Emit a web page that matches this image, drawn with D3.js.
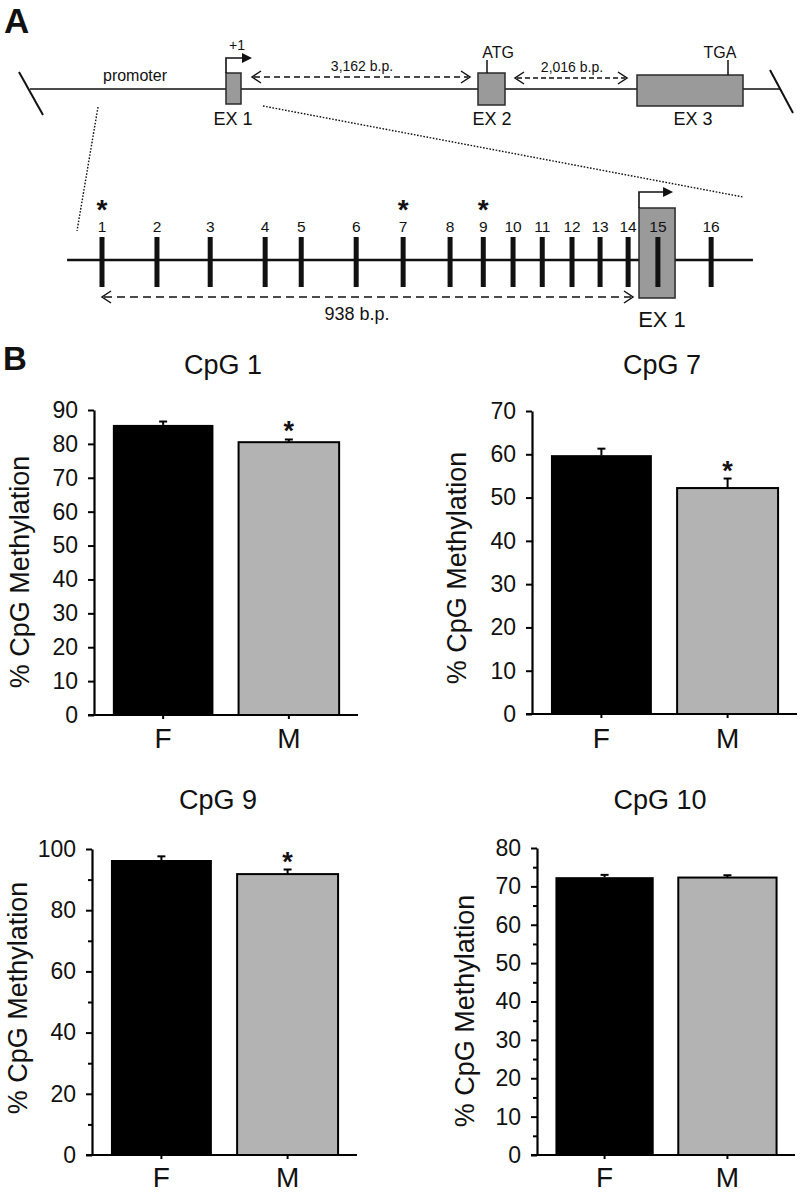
<!DOCTYPE html>
<html><head><meta charset="utf-8">
<script src="https://cdn.jsdelivr.net/npm/d3@7"></script>
<style>
html,body{margin:0;padding:0;background:#fff;}
svg text{font-family:"Liberation Sans",Arial,Helvetica,sans-serif;fill:#111;}
</style></head>
<body>
<svg id="fig" width="800" height="1195"></svg>
<script>
// ---------- DATA ----------
const cpgLabels = [1,2,3,4,5,6,7,8,9,10,11,12,13,14,15,16];
const cpgPosBp  = [0,96,189,285,348,444,526,608,666,718,769,821,870,919,971,1064];
const cpgStarred = [1,7,9];
const promoterSpanBp = 938;

const groups = ["F","M"];
const panelTitles = ["CpG 1","CpG 7","CpG 9","CpG 10"];
const meanF = [85.6, 59.8, 96.4, 72.4];
const meanM = [80.5, 52.2, 91.8, 72.3];
const semF  = [1.0, 1.5, 1.2, 0.6];
const semM  = [0.8, 2.2, 1.5, 0.6];
const significantM = [true, true, true, false];
const yMaxes = [90, 70, 100, 80];
const yMajorSteps = [10, 10, 20, 10];
const yMinorSteps = [0, 0, 10, 5];

// ---------- DRAW ----------
const svg = d3.select("#fig");
const ink = "#111";

svg.append("text").attr("x",4).attr("y",33).attr("font-size",35).attr("font-weight","bold").text("A");

const gA = svg.append("g");
function openHead(g, x, y, dir){
  g.append("path").attr("d",`M${x-dir*9},${y-6}L${x},${y}L${x-dir*9},${y+6}`)
   .attr("fill","none").attr("stroke",ink).attr("stroke-width",1.5);
}
function dashedArrow(g, x1, x2, y, dash){
  g.append("line").attr("x1",x1+2).attr("x2",x2-2).attr("y1",y).attr("y2",y)
   .attr("stroke",ink).attr("stroke-width",1.5).attr("stroke-dasharray",dash);
  openHead(g,x1,y,-1); openHead(g,x2,y,1);
}
function bentArrow(g, x, yBase, yTop, xTip){
  g.append("path").attr("d",`M${x},${yBase}V${yTop}H${xTip-8}`).attr("fill","none").attr("stroke",ink).attr("stroke-width",1.6);
  g.append("path").attr("d",`M${xTip-10},${yTop-5}L${xTip},${yTop}L${xTip-10},${yTop+5}Z`).attr("fill",ink);
}

gA.append("line").attr("x1",30).attr("x2",780).attr("y1",89).attr("y2",89).attr("stroke",ink).attr("stroke-width",1.5);
gA.append("line").attr("x1",19).attr("y1",72).attr("x2",43).attr("y2",115).attr("stroke",ink).attr("stroke-width",2);
gA.append("line").attr("x1",770).attr("y1",70).attr("x2",793).attr("y2",113).attr("stroke",ink).attr("stroke-width",2);
gA.append("text").attr("x",135).attr("y",81).attr("font-size",16).attr("text-anchor","middle").text("promoter");

gA.append("line").attr("x1",98).attr("y1",107).attr("x2",77).attr("y2",231).attr("stroke",ink).attr("stroke-width",1.4).attr("stroke-dasharray","1.6,1.6");
gA.append("line").attr("x1",263).attr("y1",106).attr("x2",743).attr("y2",197).attr("stroke",ink).attr("stroke-width",1.4).attr("stroke-dasharray","1.6,1.6");

const exons = [
  {x:226,w:15,y:73,h:31,label:"EX 1",lx:233},
  {x:478,w:27,y:73,h:32,label:"EX 2",lx:492},
  {x:637,w:106,y:75,h:31,label:"EX 3",lx:693}
];
exons.forEach(e=>{
  gA.append("rect").attr("x",e.x).attr("y",e.y).attr("width",e.w).attr("height",e.h)
    .attr("fill","#9a9a9a").attr("stroke","#2a2a2a").attr("stroke-width",1.5);
  gA.append("text").attr("x",e.lx).attr("y",125).attr("font-size",18).attr("text-anchor","middle").text(e.label);
});
bentArrow(gA,226,73,58,252);
gA.append("text").attr("x",237).attr("y",50).attr("font-size",14).attr("text-anchor","middle").text("+1");
dashedArrow(gA,252,470,77,"6,4");
gA.append("text").attr("x",362).attr("y",71).attr("font-size",14).attr("text-anchor","middle").text("3,162 b.p.");
gA.append("line").attr("x1",487).attr("x2",487).attr("y1",60).attr("y2",73).attr("stroke",ink).attr("stroke-width",1.5);
gA.append("text").attr("x",498).attr("y",58).attr("font-size",16).attr("text-anchor","middle").text("ATG");
dashedArrow(gA,515,627,78,"5,3");
gA.append("text").attr("x",572).attr("y",72).attr("font-size",14).attr("text-anchor","middle").text("2,016 b.p.");
gA.append("line").attr("x1",728).attr("x2",728).attr("y1",60).attr("y2",75).attr("stroke",ink).attr("stroke-width",1.5);
gA.append("text").attr("x",720).attr("y",58).attr("font-size",16).attr("text-anchor","middle").text("TGA");

const xb = d3.scaleLinear().domain([0,promoterSpanBp]).range([102,639]);
const lineY = 260;
gA.append("line").attr("x1",xb(-61)).attr("x2",xb(1137)).attr("y1",lineY).attr("y2",lineY).attr("stroke",ink).attr("stroke-width",2.5);
gA.append("rect").attr("x",xb(938)).attr("y",208).attr("width",xb(1001)-xb(938)).attr("height",90)
  .attr("fill","#9a9a9a").attr("stroke","#2a2a2a").attr("stroke-width",1.5);
bentArrow(gA,xb(938),208,192,xb(1001)-2);
cpgLabels.forEach((lab,i)=>{
  const x = xb(cpgPosBp[i]);
  gA.append("rect").attr("x",x-2.5).attr("y",237).attr("width",5).attr("height",50).attr("fill",ink);
  gA.append("text").attr("x",x).attr("y",232).attr("font-size",15.5).attr("text-anchor","middle").text(lab);
  if(cpgStarred.includes(lab)){
    gA.append("text").attr("x",x).attr("y",219).attr("font-size",28).attr("font-weight","bold").attr("text-anchor","middle").text("*");
  }
});
dashedArrow(gA,xb(0),xb(938)-6,297,"8,5");
gA.append("text").attr("x",357).attr("y",320).attr("font-size",18).attr("text-anchor","middle").text("938 b.p.");
gA.append("text").attr("x",662).attr("y",327).attr("font-size",22).attr("text-anchor","middle").text("EX 1");

svg.append("text").attr("x",3).attr("y",370).attr("font-size",33).attr("font-weight","bold").text("B");

const layouts = [
  {ax:94, y0:715, yTop:410, xr:358, tx:223, ty:374, lx:20, ly:572, xl:748},
  {ax:532,y0:714, yTop:411, xr:797, tx:662, ty:374, lx:457,ly:568, xl:748},
  {ax:92, y0:1155,yTop:849, xr:357, tx:218, ty:809, lx:18, ly:998, xl:1187},
  {ax:537,y0:1155,yTop:848, xr:795, tx:660, ty:809, lx:465,ly:1011,xl:1187}
];

panelTitles.forEach((title,i)=>{
  const L = layouts[i];
  const g = svg.append("g");
  const y = d3.scaleLinear().domain([0,yMaxes[i]]).range([L.y0,L.yTop]);
  const x = d3.scaleBand().domain(groups).range([L.ax,L.xr]).paddingInner(0.2).paddingOuter(0.15);
  const means = [meanF[i], meanM[i]];
  const sems = [semF[i], semM[i]];
  const fills = ["#000000","#b3b3b3"];

  g.append("text").attr("x",L.tx).attr("y",L.ty).attr("font-size",27).attr("text-anchor","middle").text(title);

  groups.forEach((grp,j)=>{
    const bx = x(grp), bw = x.bandwidth();
    g.append("rect").attr("x",bx).attr("y",y(means[j])).attr("width",bw).attr("height",y(0)-y(means[j]))
      .attr("fill",fills[j]).attr("stroke","#000").attr("stroke-width",j===0?0:2);
    const cx = bx+bw/2;
    g.append("line").attr("x1",cx).attr("x2",cx).attr("y1",y(means[j])).attr("y2",y(means[j]+sems[j])).attr("stroke","#000").attr("stroke-width",2);
    g.append("line").attr("x1",cx-4).attr("x2",cx+4).attr("y1",y(means[j]+sems[j])).attr("y2",y(means[j]+sems[j])).attr("stroke","#000").attr("stroke-width",2);
    if(j===1 && significantM[i]){
      g.append("text").attr("x",cx).attr("y",y(means[j]+sems[j])+1).attr("font-size",27).attr("font-weight","bold").attr("text-anchor","middle").text("*");
    }
    g.append("line").attr("x1",cx).attr("x2",cx).attr("y1",L.y0).attr("y2",L.y0+4).attr("stroke","#000").attr("stroke-width",2);
    g.append("text").attr("x",cx).attr("y",L.xl).attr("font-size",28).attr("text-anchor","middle").text(grp);
  });

  if(yMinorSteps[i]>0){
    const minor = d3.range(0,yMaxes[i]+0.001,yMinorSteps[i]).filter(v=>v%yMajorSteps[i]!==0);
    const ma = g.append("g").attr("transform",`translate(${L.ax},0)`)
      .call(d3.axisLeft(y).tickValues(minor).tickSizeInner(4).tickSizeOuter(0).tickFormat(""));
    ma.select(".domain").remove();
    ma.selectAll("line").attr("stroke","#000").attr("stroke-width",2);
  }
  const ya = g.append("g").attr("transform",`translate(${L.ax},0)`)
    .call(d3.axisLeft(y).tickValues(d3.range(0,yMaxes[i]+0.001,yMajorSteps[i])).tickSizeInner(6).tickSizeOuter(0).tickPadding(10));
  ya.select(".domain").attr("stroke","#000").attr("stroke-width",2.2);
  ya.selectAll("line").attr("stroke","#000").attr("stroke-width",2);
  ya.selectAll("text").attr("font-size",23).attr("fill","#111").attr("font-family","Liberation Sans, Arial, sans-serif");

  g.append("line").attr("x1",L.ax-6).attr("x2",L.xr).attr("y1",L.y0).attr("y2",L.y0).attr("stroke","#000").attr("stroke-width",2.2);

  g.append("text").attr("transform",`translate(${L.lx},${L.ly}) rotate(-90)`).attr("dy","0.35em")
    .attr("font-size",27).attr("text-anchor","middle").text("% CpG Methylation");
});
</script>
</body></html>
